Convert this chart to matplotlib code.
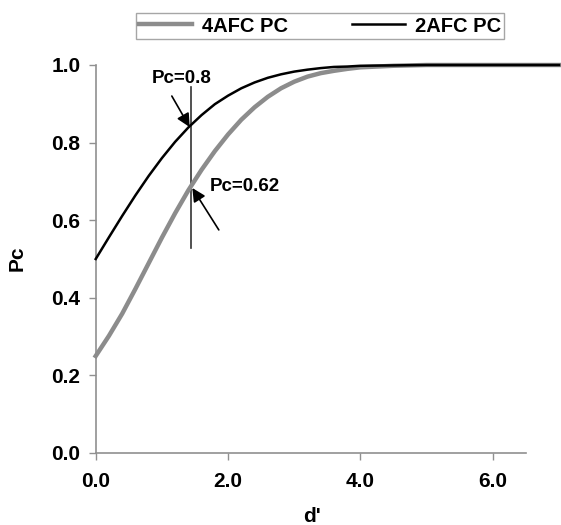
import numpy as np
import matplotlib.pyplot as plt

plt.rcParams['font.family'] = ['Liberation Sans', 'DejaVu Sans']
plt.rcParams['font.weight'] = 'bold'

# d' values and proportion correct
dprime = [0.0, 0.2, 0.4, 0.6, 0.8, 1.0, 1.2, 1.4, 1.6, 1.8, 2.0, 2.2, 2.4,
          2.6, 2.8, 3.0, 3.2, 3.4, 3.6, 3.8, 4.0, 4.5, 5.0, 6.0, 7.0]
pc_2afc = [0.500, 0.556, 0.611, 0.664, 0.714, 0.760, 0.802, 0.839, 0.871,
           0.899, 0.921, 0.940, 0.955, 0.967, 0.976, 0.983, 0.988, 0.992,
           0.995, 0.996, 0.998, 0.999, 1.000, 1.000, 1.000]
pc_4afc = [0.250, 0.302, 0.359, 0.423, 0.489, 0.555, 0.618, 0.677, 0.730,
           0.778, 0.821, 0.859, 0.891, 0.918, 0.940, 0.957, 0.970, 0.979,
           0.985, 0.990, 0.994, 0.998, 1.000, 1.000, 1.000]

d_mark = 1.44          # vertical marker
marker_span = [0.528, 0.943]

W, H = 561, 525
fig = plt.figure(figsize=(W/100, H/100), dpi=100)
ax = fig.add_axes([95.7/W, 1-453/H, (559-95.7)/W, (453-65)/H])

ax.plot(dprime, pc_4afc, color='#8c8c8c', lw=3.2, label='4AFC PC', clip_on=False, zorder=3)
ax.plot(dprime, pc_2afc, color='black', lw=1.8, label='2AFC PC', clip_on=False, zorder=4)
ax.plot([d_mark, d_mark], marker_span, color='#333333', lw=1.2, zorder=2)

ax.annotate('', xy=(1.42, 0.840), xytext=(1.15, 0.920),
            arrowprops=dict(arrowstyle='-|>', color='black', lw=1.2,
                            mutation_scale=20, shrinkA=0, shrinkB=0), zorder=5)
ax.annotate('', xy=(1.46, 0.683), xytext=(1.86, 0.575),
            arrowprops=dict(arrowstyle='-|>', color='black', lw=1.2,
                            mutation_scale=20, shrinkA=0, shrinkB=0), zorder=5)
ax.text(1.30, 0.966, 'Pc=0.8', ha='center', va='center', fontsize=13.5, fontweight='bold')
ax.text(1.72, 0.686, 'Pc=0.62', ha='left', va='center', fontsize=13.5, fontweight='bold')

ax.set_xlim(0, 7)
ax.set_ylim(0, 1)
ax.set_xticks([0, 2, 4, 6])
ax.set_xticklabels(['0.0', '2.0', '4.0', '6.0'])
ax.set_yticks([0, 0.2, 0.4, 0.6, 0.8, 1.0])
ax.set_yticklabels(['0.0', '0.2', '0.4', '0.6', '0.8', '1.0'])
ax.tick_params(axis='both', direction='out', length=5, width=1, color='#909090',
               labelsize=15)
ax.tick_params(axis='x', pad=9)
ax.tick_params(axis='y', pad=6)
for lab in ax.get_xticklabels() + ax.get_yticklabels():
    lab.set_fontweight('bold')

for s in ['top', 'right']:
    ax.spines[s].set_visible(False)
for s in ['left', 'bottom']:
    ax.spines[s].set_color('#909090')
    ax.spines[s].set_linewidth(1.2)
ax.spines['bottom'].set_bounds(0, 6.5)

fig.text(17/W, 1-258/H, 'Pc', rotation=90, ha='center', va='center',
         fontsize=15, fontweight='bold')
fig.text(312/W, 1-517/H, "d'", ha='center', va='center',
         fontsize=15, fontweight='bold')

leg = fig.legend(loc='center', bbox_to_anchor=(320/W, 1-26/H), ncol=2,
                 frameon=True, fancybox=False, fontsize=14.5, handlelength=2.6,
                 columnspacing=3.2, borderpad=0.15, handletextpad=0.5)
leg.get_frame().set_edgecolor('#909090')
leg.get_frame().set_linewidth(1)
for t in leg.get_texts():
    t.set_fontweight('bold')

fig.savefig('out.png', dpi=100)
